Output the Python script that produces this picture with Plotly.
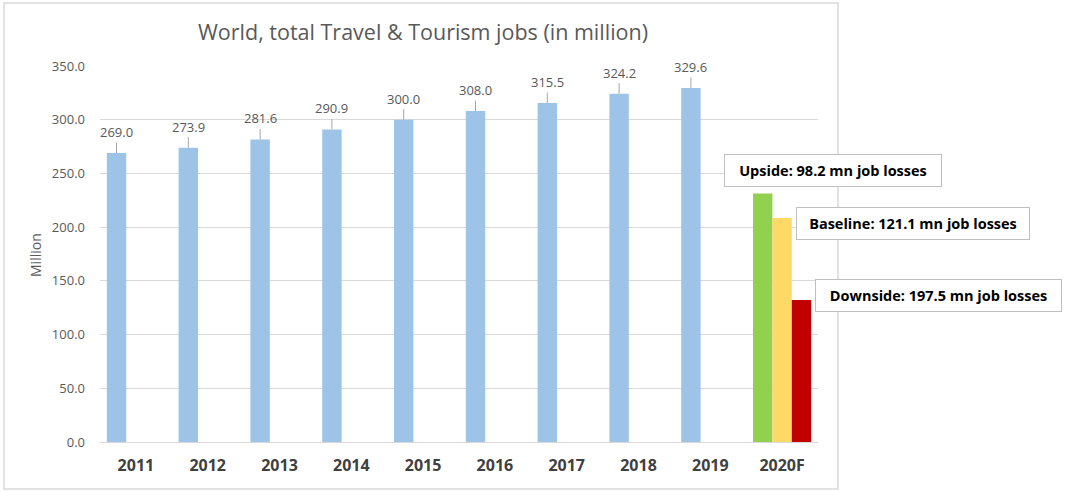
import plotly.graph_objects as go

categories = ["2011", "2012", "2013", "2014", "2015", "2016", "2017", "2018", "2019", "2020F"]
jobs_main = [269.0, 273.9, 281.6, 290.9, 300.0, 308.0, 315.5, 324.2, 329.6, 231.4]  # 2020F = upside scenario
baseline_2020 = [None] * 9 + [208.5]
downside_2020 = [None] * 9 + [132.1]
scenario_labels = ["Upside: 98.2 mn job losses", "Baseline: 121.1 mn job losses", "Downside: 197.5 mn job losses"]
title_text = "World, total Travel & Tourism jobs (in million)"
y_ticks = [0, 50, 100, 150, 200, 250, 300, 350]

BLUE = "#9DC3E6"
GREEN = "#92D050"
YELLOW = "#FFD966"
RED = "#C00000"
GRAY_TXT = "#595959"
FONT = "Open Sans"

main_colors = [BLUE] * 9 + [GREEN]

fig = go.Figure()
fig.add_trace(go.Bar(x=categories, y=jobs_main, marker=dict(color=main_colors, line=dict(width=0)), showlegend=False))
fig.add_trace(go.Bar(x=categories, y=baseline_2020, marker=dict(color=YELLOW, line=dict(width=0)), showlegend=False))
fig.add_trace(go.Bar(x=categories, y=downside_2020, marker=dict(color=RED, line=dict(width=0)), showlegend=False))

L, R, T, B = 100, 262, 66, 50
W, H = 1080, 492
pw, ph = W - L - R, H - T - B
bar_px = 0.81 * (pw / len(categories)) / 3.0

annotations = []
# data labels with leader lines for historic years (x given as category index)
for i, v in enumerate(jobs_main[:9]):
    annotations.append(dict(
        x=i, y=v, xref="x", yref="y", text=f"{v:.1f}", showarrow=True,
        arrowhead=0, arrowwidth=1, arrowcolor="#a6a6a6", ax=0, ay=-21, standoff=0,
        xshift=-bar_px, font=dict(family=FONT, size=13, color=GRAY_TXT)))

def px2paper(px, py):
    return (px - L) / pw, (H - B - py) / ph

box_specs = [
    (scenario_labels[0], 833, 170.5, 214),
    (scenario_labels[1], 913, 223.5, 230),
    (scenario_labels[2], 938.5, 295, 243),
]
for txt, cx, cy, w in box_specs:
    xp, yp = px2paper(cx, cy)
    annotations.append(dict(
        x=xp, y=yp, xref="paper", yref="paper", text=f"<b>{txt}</b>", showarrow=False,
        xanchor="center", yanchor="middle", width=w, height=29, borderpad=1,
        bordercolor="#bfbfbf", borderwidth=1, bgcolor="white", align="center",
        font=dict(family=FONT, size=14.5, color="#000000")))

# y axis title
xp, yp = px2paper(35, 255)
annotations.append(dict(x=xp, y=yp, xref="paper", yref="paper", text="Million", textangle=-90,
                        showarrow=False, xanchor="center", yanchor="middle",
                        font=dict(family=FONT, size=14, color=GRAY_TXT)))
# title
xp, yp = px2paper(423, 31)
annotations.append(dict(x=xp, y=yp, xref="paper", yref="paper", text=title_text,
                        showarrow=False, xanchor="center", yanchor="middle",
                        font=dict(family=FONT, size=21.5, color=GRAY_TXT)))

x0, y0 = px2paper(4, 489)
x1, y1 = px2paper(838, 3)
shapes = [dict(type="rect", xref="paper", yref="paper", x0=x0, y0=y0, x1=x1, y1=y1,
               line=dict(color="#d9d9d9", width=1.5), fillcolor="rgba(0,0,0,0)", layer="below")]

fig.update_layout(
    width=W, height=H,
    margin=dict(l=L, r=R, t=T, b=B, pad=0),
    barmode="group", bargap=0.19, bargroupgap=0,
    plot_bgcolor="white", paper_bgcolor="white",
    showlegend=False,
    annotations=annotations, shapes=shapes,
    xaxis=dict(type="category", categoryorder="array", categoryarray=categories,
               range=[-0.5, len(categories) - 0.5],
               showgrid=False, showline=False, zeroline=False, ticks="",
               tickfont=dict(family=FONT, size=16, color="#404040", weight="bold"),
               ticklabelstandoff=12),
    yaxis=dict(range=[0, 350], tickvals=y_ticks, ticktext=[f"{t:.1f}" for t in y_ticks],
               showgrid=True, gridcolor="#d9d9d9", gridwidth=1, zeroline=True,
               zerolinecolor="#d9d9d9", zerolinewidth=1, showline=False, ticks="",
               tickfont=dict(family=FONT, size=13, color=GRAY_TXT), ticklabelstandoff=14),
)

fig.write_html("out.html")
